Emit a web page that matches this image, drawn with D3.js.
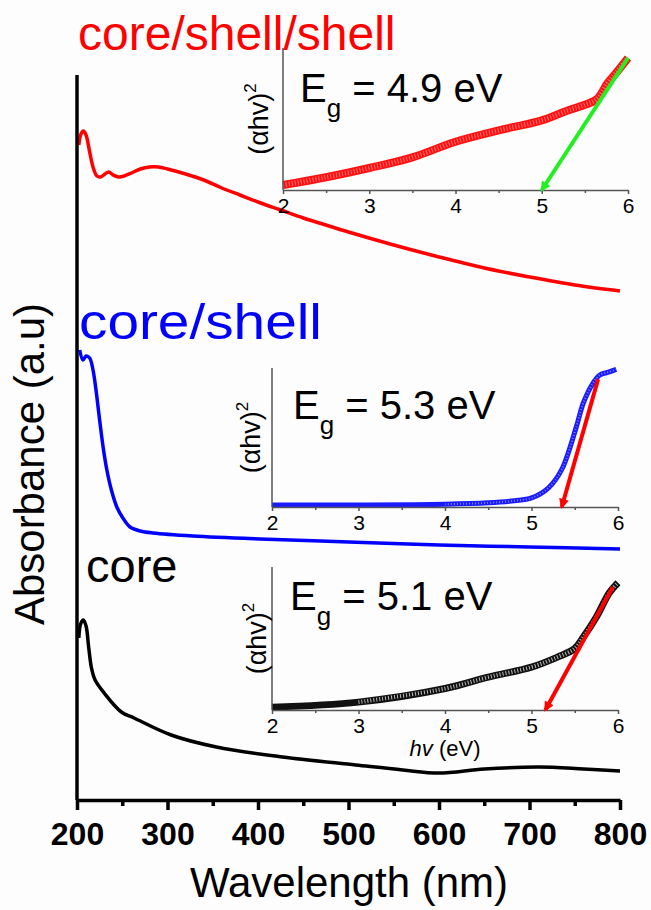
<!DOCTYPE html>
<html>
<head>
<meta charset="utf-8">
<script src="https://cdn.jsdelivr.net/npm/d3@7"></script>
<style>
  body { margin: 0; background: #fff; }
  svg { display: block; font-family: Arial, "Liberation Sans", sans-serif; }
</style>
</head>
<body>
<svg id="chart" width="651" height="910"></svg>
<script>
// main UV-vis spectra, stacked (absorbance in a.u. with offsets)
const xTicks = [200, 300, 400, 500, 600, 700, 800];
const xMinorTicks = [250, 350, 450, 550, 650, 750];

const cssWl  = [202, 204, 207, 210, 214, 218, 222, 226, 231, 235, 240, 246, 252, 260, 270, 280, 290, 300, 320, 340, 360, 380, 400, 425, 450, 475, 500, 550, 600, 650, 700, 750, 800];
const cssAbs = [6.55, 6.65, 6.69, 6.65, 6.48, 6.32, 6.24, 6.23, 6.26, 6.28, 6.25, 6.23, 6.24, 6.27, 6.31, 6.33, 6.33, 6.31, 6.26, 6.20, 6.12, 6.05, 5.98, 5.90, 5.82, 5.75, 5.68, 5.55, 5.43, 5.32, 5.23, 5.15, 5.09];

const csWl  = [203, 206.6, 210, 214, 217.7, 221, 225, 229, 233, 238, 244, 250, 258.6, 270, 284, 328, 402, 500, 600, 700, 800];
const csAbs = [4.50, 4.40, 4.44, 4.42, 4.30, 4.10, 3.80, 3.52, 3.30, 3.10, 2.93, 2.83, 2.73, 2.69, 2.67, 2.64, 2.61, 2.58, 2.55, 2.53, 2.51];

const coreWl  = [202, 204, 207, 210, 213, 216, 220, 230, 249, 263, 304, 354, 427, 508, 560, 600, 650, 710, 760, 800];
const coreAbs = [1.62, 1.76, 1.80, 1.74, 1.52, 1.32, 1.20, 1.07, 0.88, 0.82, 0.65, 0.53, 0.43, 0.35, 0.30, 0.27, 0.31, 0.33, 0.31, 0.29];

// Tauc plots (hv in eV, (αhv)^2 normalised)
const insetTicks = [2, 3, 4, 5, 6];
const insetMinor = [2.5, 3.5, 4.5, 5.5];

const taucCssE = [2, 2.5, 3, 3.5, 4, 4.5, 5, 5.3, 5.5, 5.64, 5.76, 5.87, 6];
const taucCssY = [0.035, 0.09, 0.155, 0.23, 0.34, 0.42, 0.49, 0.56, 0.60, 0.64, 0.75, 0.83, 0.93];

const taucCsE = [2, 3, 4, 4.5, 4.8, 5.0, 5.2, 5.35, 5.52, 5.6, 5.71, 5.79, 5.89, 5.98];
const taucCsY = [0.015, 0.015, 0.02, 0.03, 0.045, 0.065, 0.14, 0.27, 0.58, 0.75, 0.89, 0.95, 0.97, 0.99];

const taucCoreE = [2, 3, 4, 4.5, 5, 5.3, 5.5, 5.6, 5.75, 5.9, 6];
const taucCoreY = [0.02, 0.055, 0.15, 0.23, 0.30, 0.37, 0.43, 0.51, 0.65, 0.82, 0.89];

const bandGaps = ['4.9', '5.3', '5.1'];

const svg = d3.select('#chart');
svg.append('rect').attr('width', 651).attr('height', 910).attr('fill', '#fdfdfd');

let x = d3.scaleLinear().domain([200, 800]).range([77, 620]),
    y = d3.scaleLinear().domain([0, 7.25]).range([800, 75]);

const line = d3.line().x(d => x(d[0])).y(d => y(d[1])).curve(d3.curveCatmullRom);

function drawSpectrum(wl, abs, color) {
  svg.append('path')
    .datum(d3.zip(wl, abs))
    .attr('d', line)
    .attr('fill', 'none')
    .attr('stroke', color)
    .attr('stroke-width', 3.5)
    .attr('stroke-linejoin', 'round');
}

// arrow heads
const defs = svg.append('defs');
[['red', '#ff0000'], ['green', '#22ee22']].forEach(([id, c]) => {
  defs.append('marker')
    .attr('id', 'head-' + id)
    .attr('viewBox', '0 0 10 10')
    .attr('refX', 8).attr('refY', 5)
    .attr('markerWidth', 11).attr('markerHeight', 10)
    .attr('markerUnits', 'userSpaceOnUse')
    .attr('orient', 'auto')
    .append('path').attr('d', 'M0,0 L10,5 L0,10 Z').attr('fill', c);
});

//一个小的Tauc插图
function drawInset(cfg) {
  const ix = d3.scaleLinear().domain([2, 6]).range([cfg.x0, cfg.x1]),
        iy = d3.scaleLinear().domain([0, 1]).range([cfg.bottom, cfg.top]);
  const g = svg.append('g');

  const iline = d3.line().x(d => ix(d[0])).y(d => iy(d[1])).curve(d3.curveCatmullRom);
  const pts = d3.zip(cfg.e, cfg.v);
  g.append('path').datum(pts).attr('d', iline)
    .attr('fill', 'none').attr('stroke', cfg.color).attr('stroke-width', cfg.width);
  g.append('path').datum(pts.filter(d => d[0] >= cfg.hatchFrom)).attr('d', iline)
    .attr('fill', 'none').attr('stroke', cfg.hatch).attr('stroke-width', cfg.width - 3)
    .attr('stroke-dasharray', '1,2');

  // axes
  g.append('line')
    .attr('x1', cfg.x0).attr('x2', cfg.x0).attr('y1', cfg.top).attr('y2', cfg.bottom)
    .attr('stroke', '#555').attr('stroke-width', 1.5);
  const ax = g.append('g').attr('transform', `translate(0,${cfg.bottom})`)
    .call(d3.axisBottom(ix).tickValues(insetTicks).tickFormat(d3.format('d'))
      .tickSize(4).tickSizeOuter(0).tickPadding(4));
  ax.select('.domain').attr('stroke', '#555').attr('stroke-width', 1.5);
  ax.selectAll('.tick line').attr('stroke', '#555').attr('stroke-width', 1.5);
  ax.selectAll('text').attr('font-size', 21).attr('font-family', 'Arial, "Liberation Sans", sans-serif').attr('fill', '#000');
  g.append('g').attr('transform', `translate(0,${cfg.bottom})`)
    .call(d3.axisBottom(ix).tickValues(insetMinor).tickSize(3).tickFormat(''))
    .call(s => s.select('.domain').remove())
    .selectAll('.tick line').attr('stroke', '#555').attr('stroke-width', 1.5);

  // y label (αhv)^2
  const lab = g.append('text')
    .attr('transform', `translate(${cfg.labelX},${(cfg.top + cfg.bottom) / 2}) rotate(-90)`)
    .attr('text-anchor', 'middle').attr('font-size', 27);
  lab.append('tspan').text('(\u03b1hv)');
  lab.append('tspan').attr('font-size', 17).attr('dy', -12).text('2');

  // tangent arrow
  g.append('line')
    .attr('x1', ix(cfg.arrow[0][0])).attr('y1', iy(cfg.arrow[0][1]))
    .attr('x2', ix(cfg.arrow[1][0])).attr('y2', iy(cfg.arrow[1][1]))
    .attr('stroke', cfg.arrowColor).attr('stroke-width', 4)
    .attr('marker-end', `url(#head-${cfg.arrowId})`);

  // Eg text
  const t = g.append('text').attr('x', cfg.egX).attr('y', cfg.egY).attr('font-size', 40);
  t.append('tspan').text('E');
  t.append('tspan').attr('font-size', 26).attr('dy', 15).text('g');
  t.append('tspan').attr('dy', -15).text(` = ${cfg.eg} eV`);

  if (cfg.xlabel) {
    const xl = g.append('text').attr('x', (cfg.x0 + cfg.x1) / 2).attr('y', cfg.bottom + 46)
      .attr('text-anchor', 'middle').attr('font-size', 22);
    xl.append('tspan').attr('font-style', 'italic').text('hv');
    xl.append('tspan').text(' (eV)');
  }
}

drawSpectrum(cssWl, cssAbs, '#ff0000');
drawSpectrum(csWl, csAbs, '#0000ff');
drawSpectrum(coreWl, coreAbs, '#000000');

drawInset({x0: 283, x1: 628, top: 48, bottom: 190, e: taucCssE, v: taucCssY,
  color: '#ff1010', hatch: '#ff7070', width: 8, hatchFrom: 2,
  arrow: [[6, 0.93], [5.0, 0]], arrowColor: '#22ee22', arrowId: 'green',
  labelX: 268, egX: 300, egY: 102, eg: bandGaps[0]});
drawInset({x0: 272, x1: 618, top: 368, bottom: 507, e: taucCsE, v: taucCsY,
  color: '#1a1aff', hatch: '#8080ff', width: 5, hatchFrom: 4,
  arrow: [[5.77, 0.92], [5.35, 0]], arrowColor: '#ff0000', arrowId: 'red',
  labelX: 260, egX: 293, egY: 419, eg: bandGaps[1]});
drawInset({x0: 272, x1: 618, top: 567, bottom: 710, e: taucCoreE, v: taucCoreY,
  color: '#111', hatch: '#bbb', width: 7, hatchFrom: 3,
  arrow: [[5.94, 0.86], [5.16, 0]], arrowColor: '#ff0000', arrowId: 'red',
  labelX: 266, egX: 290, egY: 610, eg: bandGaps[2], xlabel: true});

// main axes
svg.append('line').attr('x1', 77).attr('x2', 77).attr('y1', 75).attr('y2', 800)
  .attr('stroke', '#000').attr('stroke-width', 3.5);
const xAxis = svg.append('g').attr('transform', 'translate(0,800)')
  .call(d3.axisBottom(x).tickValues(xTicks).tickSize(10).tickSizeOuter(0).tickPadding(12));
xAxis.select('.domain').attr('stroke', '#000').attr('stroke-width', 3.5);
xAxis.selectAll('.tick line').attr('stroke', '#000').attr('stroke-width', 3.5);
xAxis.selectAll('text').attr('font-size', 32).attr('font-weight', 'bold')
  .attr('font-family', 'Arial, "Liberation Sans", sans-serif').attr('fill', '#000');
svg.append('g').attr('transform', 'translate(0,800)')
  .call(d3.axisBottom(x).tickValues(xMinorTicks).tickSize(6).tickFormat(''))
  .call(s => s.select('.domain').remove())
  .selectAll('.tick line').attr('stroke', '#000').attr('stroke-width', 3.5);

svg.append('text').attr('x', 349).attr('y', 897).attr('text-anchor', 'middle')
  .attr('font-size', 42).text('Wavelength (nm)');
svg.append('text').attr('transform', 'translate(44,464) rotate(-90)')
  .attr('text-anchor', 'middle').attr('font-size', 42).text('Absorbance (a.u)');

// series labels
svg.append('text').attr('x', 78).attr('y', 50).attr('font-size', 48).attr('fill', '#ff0000').text('core/shell/shell');
svg.append('text').attr('x', 79).attr('y', 339).attr('font-size', 50).attr('fill', '#0000ff')
  .attr('textLength', 243).attr('lengthAdjust', 'spacingAndGlyphs').text('core/shell');
svg.append('text').attr('x', 86).attr('y', 582).attr('font-size', 47).attr('fill', '#000').text('core');
</script>
</body>
</html>
